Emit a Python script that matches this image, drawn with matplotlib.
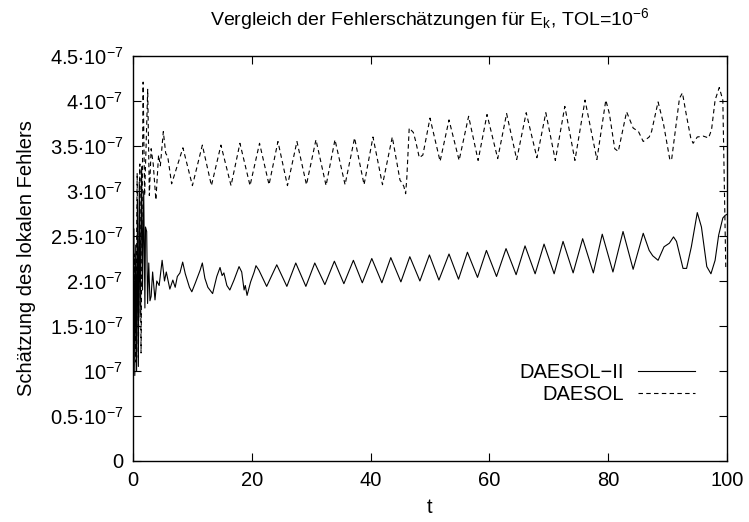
import numpy as np
import matplotlib
matplotlib.use("Agg")
import matplotlib.pyplot as plt

## Einstellungen ##
plt.rcParams['font.family'] = ['Liberation Sans', 'DejaVu Sans']
plt.rcParams['mathtext.fontset'] = 'custom'
plt.rcParams['mathtext.rm'] = 'Liberation Sans'
plt.rcParams['mathtext.it'] = 'Liberation Sans:italic'
plt.rcParams['font.size'] = 14.5

titel = r"Vergleich der Fehlerschätzungen für E$_\mathregular{k}$, TOL=10$^\mathregular{-6}$"
x_label = "t"
y_label = "Schätzung des lokalen Fehlers"

## Fehlerschaetzung DAESOL-II (Einheit 1e-7) ##
t_daesol2 = [0.0, 0.15, 0.3, 0.45, 0.6, 0.75, 0.9, 1.05, 1.2, 1.45, 1.6, 1.8, 2.0, 2.1,
             2.3, 2.45, 2.65, 2.85, 3.05, 3.3, 3.7, 4.0, 4.4, 4.9, 5.3, 5.6, 6.2, 6.7,
             7.1, 7.46, 7.9, 8.36, 8.8, 9.5, 9.9, 10.5, 11.3, 11.67, 12.1, 12.6, 13.4,
             14.1, 14.65, 15.0, 15.3, 15.8, 16.3, 17.0, 17.85, 18.3, 18.7, 18.9, 19.2,
             19.8, 20.4, 20.7, 21.2, 22.5, 24.2, 25.9, 27.4, 29.1, 30.6, 32.3, 33.9,
             35.5, 37.1, 38.6, 40.2, 41.9, 43.4, 45.1, 46.6, 48.3, 49.9, 51.5, 53.2,
             54.8, 56.3, 58.0, 59.5, 61.2, 62.8, 64.5, 66.0, 67.7, 69.2, 70.9, 72.4,
             74.1, 75.7, 77.5, 79.0, 80.8, 82.5, 84.2, 85.9, 86.9, 87.5, 88.4, 89.4,
             90.3, 91.0, 91.5, 92.6, 93.2, 94.0, 95.0, 95.7, 96.6, 97.3, 98.0, 98.6,
             99.3, 99.7, 100.0]
e_daesol2 = [0.15, 2.58, 0.95, 2.4, 1.0, 2.9, 1.05, 3.1, 1.6, 3.27, 1.9, 3.0, 1.7, 2.6,
             2.55, 1.75, 2.2, 1.78, 1.83, 2.1, 1.79, 2.0, 1.95, 2.23, 2.0, 2.1, 1.91, 2.01,
             1.93, 2.05, 2.09, 2.21, 2.08, 1.93, 1.88, 1.98, 2.12, 2.2, 2.03, 1.93, 1.86,
             2.05, 2.15, 2.06, 2.09, 1.95, 1.9, 2.01, 2.16, 2.1, 1.9, 1.95, 1.84,
             1.99, 2.1, 2.17, 2.12, 1.94, 2.18, 1.94, 2.20, 1.94, 2.20, 1.96, 2.22,
             1.97, 2.23, 1.98, 2.25, 1.98, 2.26, 1.99, 2.27, 2.00, 2.29, 2.01, 2.30,
             2.02, 2.32, 2.04, 2.34, 2.05, 2.36, 2.07, 2.39, 2.08, 2.41, 2.08, 2.44,
             2.09, 2.47, 2.09, 2.52, 2.10, 2.55, 2.13, 2.53, 2.34, 2.28, 2.23, 2.38,
             2.42, 2.49, 2.44, 2.14, 2.14, 2.38, 2.76, 2.6, 2.16, 2.08, 2.23, 2.51,
             2.70, 2.73, 2.74]

## Fehlerschaetzung DAESOL (Einheit 1e-7) ##
t_daesol = [0.0, 0.25, 0.45, 0.7, 0.9, 1.15, 1.35, 1.7, 1.95, 2.2, 2.47, 2.75, 3.05,
            3.4, 3.85, 4.3, 4.6, 5.1, 5.5, 5.85, 6.5, 8.4, 10.0, 11.67, 13.2, 14.8,
            16.5, 18.0, 19.7, 21.3, 22.9, 24.4, 26.0, 27.6, 29.2, 30.8, 32.5, 34.0,
            35.7, 37.3, 38.9, 40.4, 42.0, 43.65, 44.95, 45.3, 45.6, 45.9, 46.1, 46.5,
            47.2, 47.6, 48.2, 48.8, 50.0, 51.7, 53.2, 54.9, 56.5, 58.1, 59.6, 61.4,
            62.9, 64.6, 66.2, 68.0, 69.5, 71.1, 72.7, 74.4, 76.1, 78.1, 79.6, 80.2,
            81.1, 81.7, 83.1, 84.2, 85.1, 85.9, 86.9, 87.3, 88.4, 89.3, 90.4, 90.7,
            92.0, 92.5, 93.2, 93.9, 94.3, 95.0, 96.0, 96.9, 97.4, 98.0, 98.7, 99.3,
            99.8]
e_daesol = [0.45, 2.3, 1.1, 3.2, 1.15, 3.3, 1.2, 4.21, 2.95, 3.5, 4.13, 2.95, 3.47,
            3.3, 2.9, 3.4, 3.28, 3.66, 3.42, 3.38, 3.08, 3.48, 3.06, 3.51, 3.06, 3.51,
            3.06, 3.53, 3.06, 3.53, 3.07, 3.55, 3.06, 3.55, 3.07, 3.57, 3.06, 3.57,
            3.07, 3.59, 3.07, 3.60, 3.07, 3.60, 3.12, 3.09, 3.05, 2.97, 3.15, 3.70,
            3.65, 3.55, 3.37, 3.40, 3.81, 3.33, 3.79, 3.34, 3.83, 3.34, 3.85, 3.36,
            3.86, 3.35, 3.87, 3.37, 3.87, 3.34, 3.94, 3.34, 4.01, 3.35, 4.01, 3.86,
            3.47, 3.44, 3.88, 3.70, 3.66, 3.55, 3.60, 3.66, 3.99, 3.75, 3.34, 3.36,
            4.03, 4.09, 3.83, 3.59, 3.53, 3.60, 3.61, 3.59, 3.68, 4.01, 4.15, 4.01,
            2.15]

## Achsenbeschriftung ##
y_ticks = [0, 0.5, 1, 1.5, 2, 2.5, 3, 3.5, 4, 4.5]
y_tick_labels = ["0", r"$\mathregular{0.5{\cdot}10^{-7}}$", r"$\mathregular{10^{-7}}$",
                 r"$\mathregular{1.5{\cdot}10^{-7}}$", r"$\mathregular{2{\cdot}10^{-7}}$",
                 r"$\mathregular{2.5{\cdot}10^{-7}}$", r"$\mathregular{3{\cdot}10^{-7}}$",
                 r"$\mathregular{3.5{\cdot}10^{-7}}$", r"$\mathregular{4{\cdot}10^{-7}}$",
                 r"$\mathregular{4.5{\cdot}10^{-7}}$"]
x_ticks = [0, 20, 40, 60, 80, 100]

fig = plt.figure(figsize=(7.49, 5.22), dpi=100)
ax = fig.add_axes([0.1776, 0.1169, 0.7930, 0.7758])

ax.plot(t_daesol2, e_daesol2, color="black", lw=0.8, label="DAESOL\u2212II")
ax.plot(t_daesol, e_daesol, color="black", lw=0.8, linestyle=(0, (4, 3)), label="DAESOL")

ax.set_xlim(0, 100)
ax.set_ylim(0, 4.5)
ax.set_xticks(x_ticks)
ax.set_yticks(y_ticks)
ax.set_yticklabels(y_tick_labels)
ax.tick_params(direction="in", length=6, width=0.8, top=True, right=True, pad=7)
for s in ax.spines.values():
    s.set_linewidth(1.0)

ax.set_xlabel(x_label, labelpad=6)
ax.set_ylabel(y_label, labelpad=10)
ax.set_title(titel, fontsize=14, pad=22)

ax.legend(loc="upper right", bbox_to_anchor=(0.946, 0.243), frameon=False,
          markerfirst=False, handlelength=2.85, handletextpad=0.7,
          borderpad=0, borderaxespad=0, labelspacing=0.15)

plt.savefig("out.png", dpi=100)
